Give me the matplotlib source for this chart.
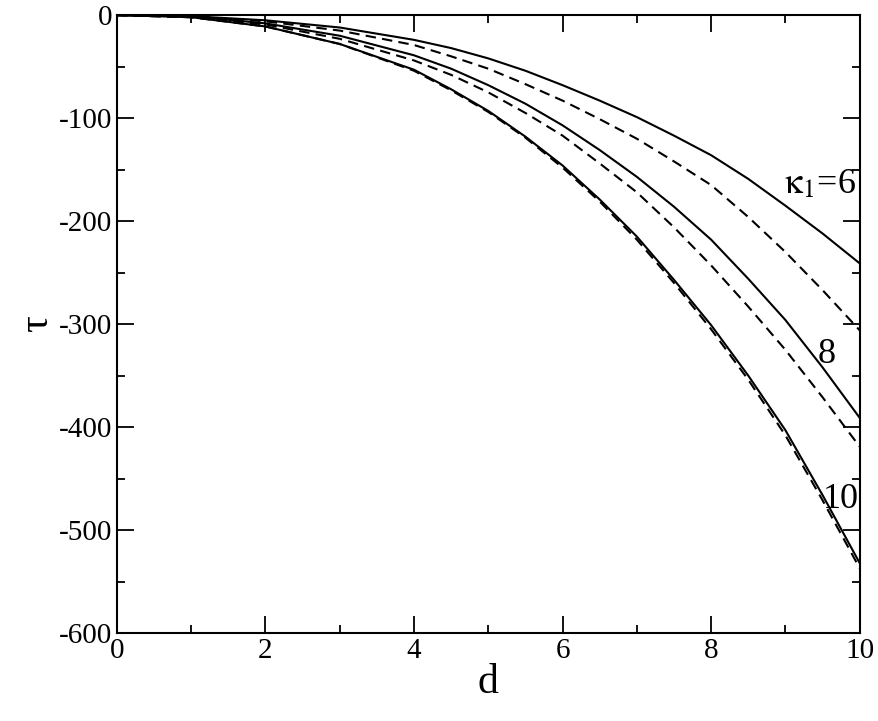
import matplotlib
matplotlib.use("Agg")
import matplotlib.pyplot as plt
from matplotlib.ticker import MultipleLocator

d = [0, 1, 2, 3, 4, 4.5, 5, 5.5, 6, 6.5, 7, 7.5, 8, 8.5, 9, 9.5, 10]
solid6 = [0, -1, -5, -12, -24, -32, -42, -54, -68, -83, -99, -117, -136, -159, -185, -212, -241]
dashed6 = [0, -1, -6, -15, -29, -40, -52, -67, -83, -101, -120, -142, -165, -196, -230, -267, -306]
solid8 = [0, -1, -8, -20, -39, -52, -68, -86, -107, -131, -157, -186, -218, -256, -296, -342, -391]
dashed8 = [0, -2, -9, -23, -44, -58, -75, -95, -117, -144, -172, -206, -243, -283, -325, -371, -419]
solid10 = [0, -2, -11, -28, -53, -72, -93, -118, -146, -179, -215, -257, -301, -350, -403, -466, -532]
dashed10 = [0, -2, -11, -28, -54, -73, -94, -119, -148, -181, -218, -260, -305, -354, -408, -471, -537]

plt.rcParams['font.family'] = ['Liberation Serif', 'DejaVu Serif']
plt.rcParams['mathtext.fontset'] = 'stix'
plt.rcParams['axes.unicode_minus'] = False
fig = plt.figure(figsize=(8.79, 7.21), dpi=100)
ax = fig.add_axes([0.133, 0.122, 0.845, 0.857])
for s, dd in [(solid6, dashed6), (solid8, dashed8), (solid10, dashed10)]:
    ax.plot(d, s, color='black', lw=1.5)
    ax.plot(d, dd, color='black', lw=1.5, ls=(0, (5, 3)))
ax.set_xlim(0, 10)
ax.set_ylim(-600, 0)
ax.xaxis.set_major_locator(MultipleLocator(2))
ax.xaxis.set_minor_locator(MultipleLocator(1))
ax.yaxis.set_major_locator(MultipleLocator(100))
ax.yaxis.set_minor_locator(MultipleLocator(50))
ax.tick_params(which='both', direction='in', top=True, right=True, labelsize=21, width=1.3)
ax.tick_params(which='major', length=12)
ax.tick_params(which='minor', length=6)
for sp in ax.spines.values():
    sp.set_linewidth(1.5)
ax.set_xlabel('d', fontsize=30, labelpad=0)
ax.set_ylabel('τ', fontsize=30, labelpad=2)
ax.text(9.95, -165, r'$\mathrm{\kappa}_1$=6', fontsize=26, ha='right', va='center')
ax.text(9.55, -330, '8', fontsize=26, ha='center', va='center')
ax.text(9.75, -470, '10', fontsize=26, ha='center', va='center')
fig.savefig('out.png', dpi=100)
